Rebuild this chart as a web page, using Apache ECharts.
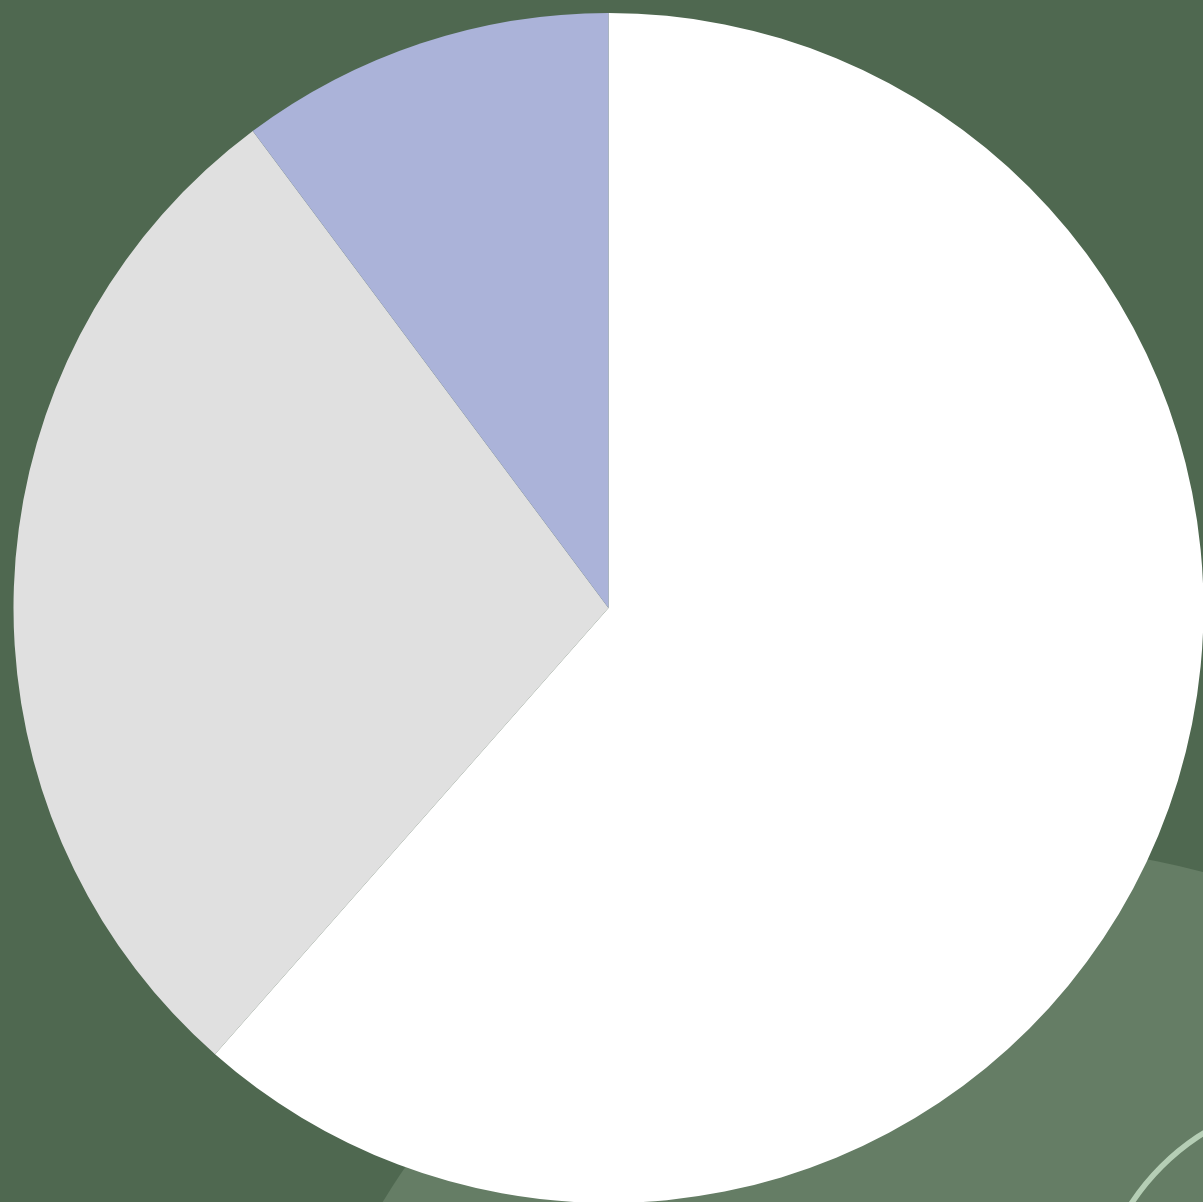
<!DOCTYPE html>
<html>
<head>
<meta charset="utf-8">
<script src="https://cdn.jsdelivr.net/npm/echarts@6/dist/echarts.min.js"></script>
<style>
html,body{margin:0;padding:0;background:#4f6850;}
#chart{width:1203px;height:1202px;}
</style>
</head>
<body>
<div id="chart"></div>
<script>
const categories = ['A', 'B', 'C'];
const values = [61.5, 28.3, 10.2];
const sliceColors = ['#ffffff', '#e0e0e0', '#abb3d9'];

const chart = echarts.init(document.getElementById('chart'), null, {renderer: 'canvas'});
chart.setOption({
  backgroundColor: '#4f6850',
  animation: false,
  graphic: [
    {type: 'circle', z: 0, shape: {cx: 1013, cy: 1584, r: 737}, style: {fill: '#657d65'}},
    {type: 'ring', z: 1, shape: {cx: 1330, cy: 1335, r: 241, r0: 235.5}, style: {fill: '#b5ceb5'}}
  ],
  series: [{
    type: 'pie',
    z: 5,
    center: [608.5, 608],
    radius: [0, 595],
    startAngle: 90,
    clockwise: true,
    label: {show: false},
    labelLine: {show: false},
    itemStyle: {borderWidth: 0},
    emphasis: {disabled: true},
    data: categories.map((c, i) => ({name: c, value: values[i], itemStyle: {color: sliceColors[i]}}))
  }]
});
</script>
</body>
</html>
